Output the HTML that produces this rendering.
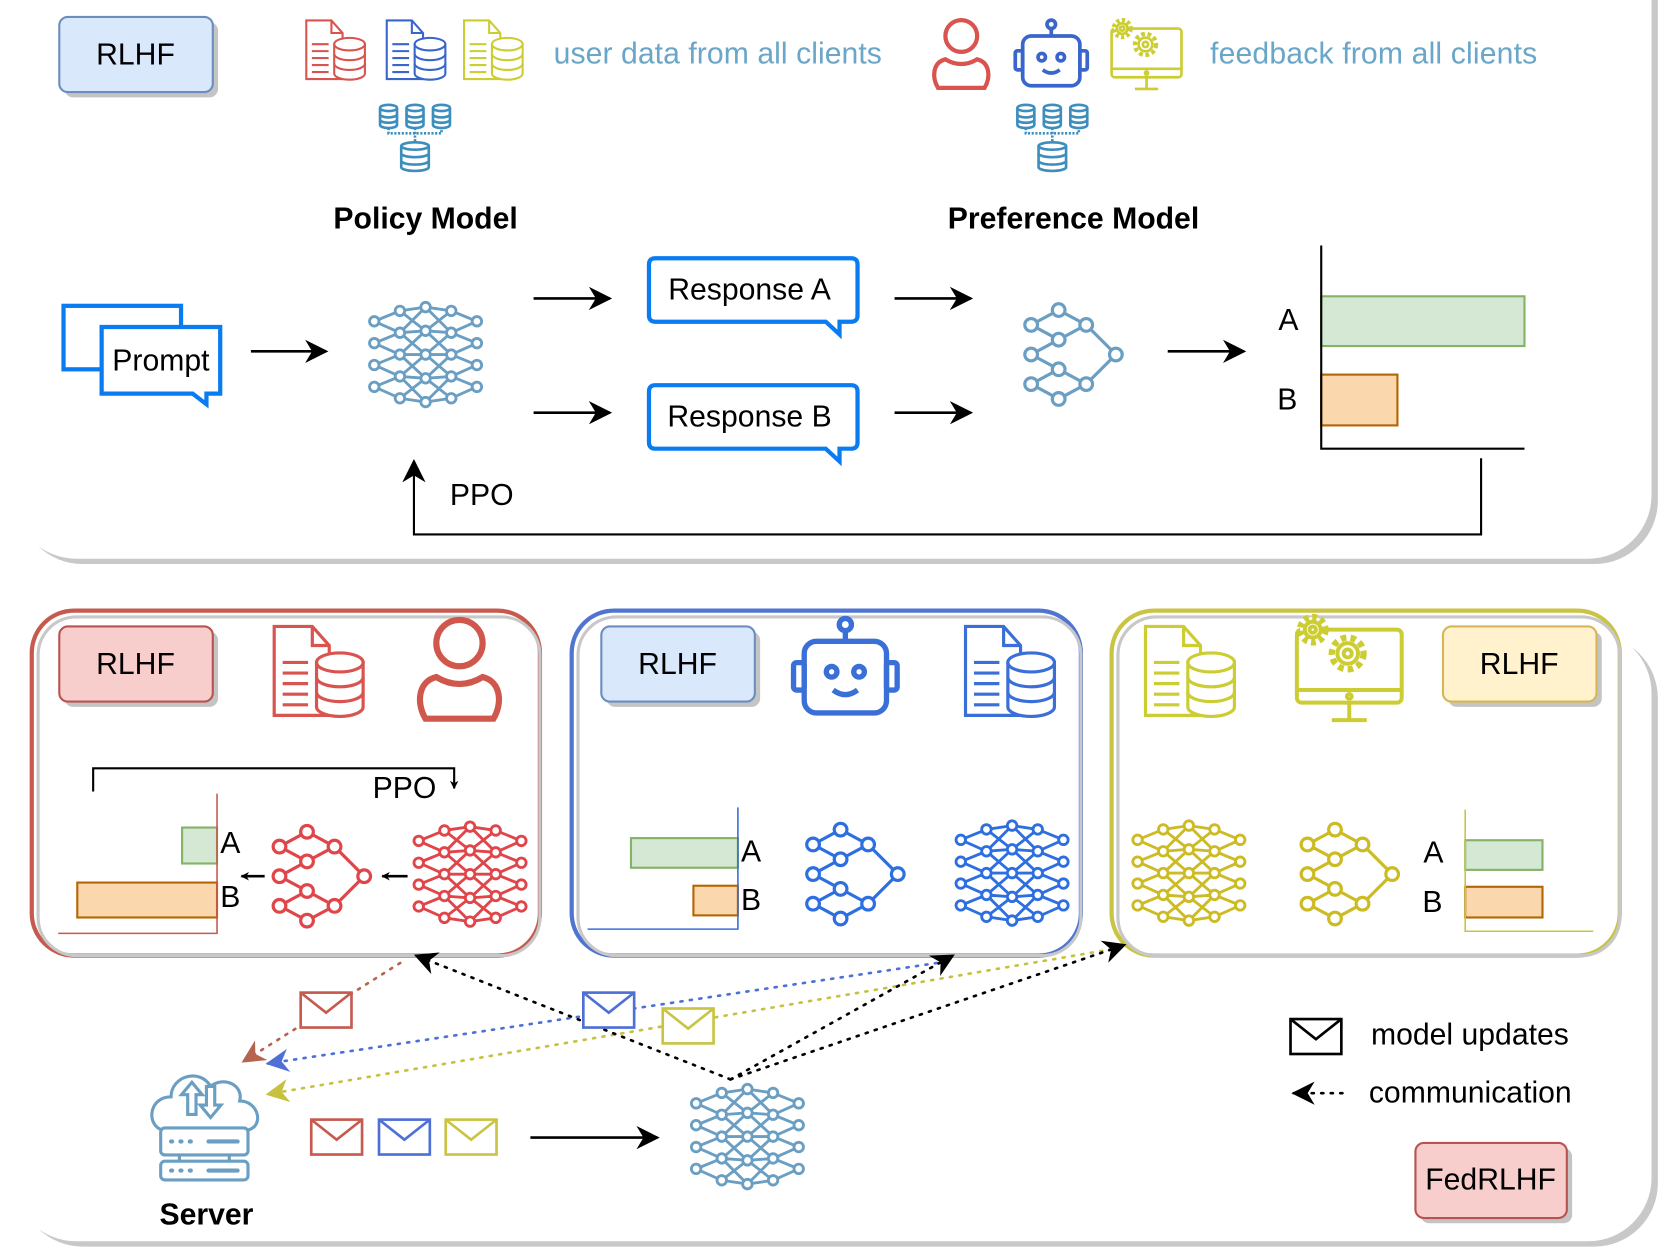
<!DOCTYPE html>
<html><head><meta charset="utf-8"><style>
html,body{margin:0;padding:0;background:#fff}
svg{display:block}
text{font-family:"Liberation Sans",Arial,sans-serif;fill:#000}
</style></head><body>
<svg id="s" xmlns="http://www.w3.org/2000/svg" xmlns:xlink="http://www.w3.org/1999/xlink" width="1660" height="1254" viewBox="0 0 1568 1185" preserveAspectRatio="none">
<defs>
<symbol id="dense" viewBox="-6 -6 120 117" overflow="visible"><g id="denseg" fill="none" stroke="currentColor" stroke-width="3"></g></symbol>
<symbol id="pref" viewBox="0 0 97 95" overflow="visible">
<g fill="none" stroke="currentColor" stroke-width="3">
<path d="M34,6 L8,20 M34,6 L60,20 M8,20 L34,34 M60,20 L34,34 M34,34 L8,48 M8,48 L34,62 M34,62 L60,76 M34,62 L8,76 M8,76 L34,90 M60,76 L34,90 M60,20 L88,48 M60,76 L88,48"/>
<g fill="#fff"><circle cx="34" cy="6" r="6"/><circle cx="8" cy="20" r="6"/><circle cx="60" cy="20" r="6"/><circle cx="34" cy="34" r="6"/><circle cx="8" cy="48" r="6"/><circle cx="88" cy="48" r="6"/><circle cx="34" cy="62" r="6"/><circle cx="8" cy="76" r="6"/><circle cx="60" cy="76" r="6"/><circle cx="34" cy="90" r="6"/></g></g></symbol>
<symbol id="docdb" viewBox="0 0 88 88" overflow="visible">
<g fill="#fff" stroke="currentColor" stroke-width="3">
<path d="M2,2 H38 L54,20 V86 H2 Z"/><path d="M38,2 V20 H54" fill="none"/>
<path d="M10,36 H34 M10,46 H34 M10,56 H34 M10,66 H34 M10,76 H34" fill="none"/>
<path d="M42,36 V78 A22,9 0 0 0 86,78 V36 Z"/>
<ellipse cx="64" cy="36" rx="22" ry="9"/>
<path d="M42,50 A22,9 0 0 0 86,50 M42,64 A22,9 0 0 0 86,64" fill="none"/>
</g></symbol>
<symbol id="person" viewBox="0 0 60 72" overflow="visible">
<g fill="none" stroke="currentColor" stroke-width="4"><circle cx="30" cy="19" r="15"/><path d="M8,68 C2,58 3,44 15,41 Q30,50 45,41 C57,44 58,58 52,68 Z"/></g></symbol>
<symbol id="robot" viewBox="0 0 72 66" overflow="visible">
<g fill="none" stroke="currentColor" stroke-width="3.5"><circle cx="36" cy="5" r="4"/><path d="M36,9 V16"/><rect x="9" y="16" width="54" height="47" rx="8"/><rect x="2" y="30" width="7" height="18" rx="2"/><rect x="63" y="30" width="7" height="18" rx="2"/><circle cx="27" cy="36" r="3.5"/><circle cx="45" cy="36" r="3.5"/><path d="M28,48 Q36,54 44,48"/></g></symbol>
<symbol id="monitor" viewBox="0 0 72 72" overflow="visible">
<g fill="#fff" stroke="currentColor" stroke-width="2.5"><rect x="4" y="12" width="66" height="46" rx="3"/><path d="M4,50 H70 M37,58 V68 M26,69 H48" fill="none"/><circle cx="37" cy="54" r="1.5"/>
<circle cx="14" cy="12" r="8" stroke-width="4" stroke-dasharray="3 2.3"/><circle cx="14" cy="12" r="5"/><circle cx="14" cy="12" r="2"/>
<circle cx="36" cy="27" r="10" stroke-width="4" stroke-dasharray="3.5 2.6"/><circle cx="36" cy="27" r="6.5"/><circle cx="36" cy="27" r="2.5"/></g></symbol>
<symbol id="dbc" viewBox="0 0 68 66" overflow="visible">
<g fill="#fff" stroke="currentColor" stroke-width="2.5">
<g id="cyl"><path d="M1,4 V20 A8,3 0 0 0 17,20 V4"/><ellipse cx="9" cy="4" rx="8" ry="3"/><path d="M1,10 A8,3 0 0 0 17,10 M1,15 A8,3 0 0 0 17,15" fill="none"/></g>
<use xlink:href="#cyl" x="25"/><use xlink:href="#cyl" x="50"/>
<path d="M9,23 V28 H59 V23 M34,23 V36" fill="none" stroke-dasharray="2 1.5"/>
<g transform="translate(20,36)"><path d="M1,4 V24 A13,3.5 0 0 0 27,24 V4"/><ellipse cx="14" cy="4" rx="13" ry="3.5"/><path d="M1,11 A13,3.5 0 0 0 27,11 M1,18 A13,3.5 0 0 0 27,18" fill="none"/></g>
</g></symbol>
<symbol id="env" viewBox="0 0 50 35" overflow="visible"><g fill="#fff" stroke="currentColor" stroke-width="2.5"><rect x="1" y="1" width="48" height="33"/><path d="M1,1 L25,20 L49,1" fill="none"/></g></symbol>
<symbol id="cloud" viewBox="0 0 110 110" overflow="visible">
<g fill="#fff" stroke="currentColor" stroke-width="3">
<path d="M14,62 C-2,58 0,30 22,30 C22,10 50,2 60,20 C72,10 92,18 88,34 C106,34 112,58 96,62 Z"/>
<path d="M38,47 V28 H32 L42,16 L52,28 H46 V47 Z"/><path d="M56,20 H64 V38 H70 L60,50 L50,38 H56 Z"/>
<rect x="12" y="60" width="84" height="26" rx="4"/><rect x="12" y="92" width="84" height="18" rx="4"/><path d="M30,86 V92 M78,86 V92" fill="none"/>
<path d="M22,73 h1 M31,73 h1 M40,73 h1 M22,101 h1 M31,101 h1 M40,101 h1 M58,73 H86 M58,101 H86" fill="none" stroke-linecap="round" stroke-width="4"/>
</g></symbol>
<marker id="ah" viewBox="0 0 10 10" refX="9" refY="5" markerWidth="8" markerHeight="8" orient="auto" markerUnits="userSpaceOnUse"><path d="M0,0 L10,5 L0,10 L3,5 Z" fill="#000"/></marker>
<marker id="ahb" viewBox="0 0 10 10" refX="9" refY="5" markerWidth="22" markerHeight="22" orient="auto" markerUnits="userSpaceOnUse"><path d="M0,0 L10,5 L0,10 L3,5 Z" fill="#000"/></marker>
<marker id="ahr" viewBox="0 0 10 10" refX="9" refY="5" markerWidth="22" markerHeight="22" orient="auto" markerUnits="userSpaceOnUse"><path d="M0,0 L10,5 L0,10 L3,5 Z" fill="#b5644f"/></marker>
<marker id="ahbl" viewBox="0 0 10 10" refX="9" refY="5" markerWidth="22" markerHeight="22" orient="auto" markerUnits="userSpaceOnUse"><path d="M0,0 L10,5 L0,10 L3,5 Z" fill="#4e6fd6"/></marker>
<marker id="ahy" viewBox="0 0 10 10" refX="9" refY="5" markerWidth="22" markerHeight="22" orient="auto" markerUnits="userSpaceOnUse"><path d="M0,0 L10,5 L0,10 L3,5 Z" fill="#c7c040"/></marker>
</defs>

<rect x="18" y="-95" width="1548" height="628" rx="60" fill="#c8c8c8"/>
<rect x="12" y="-100" width="1548" height="628" rx="60" fill="#fff"/>
<rect x="18" y="600" width="1548" height="578" rx="60" fill="#c8c8c8"/>
<rect x="12" y="595" width="1548" height="578" rx="60" fill="#fff"/>

<rect x="61" y="21" width="145" height="71" rx="8" fill="#c4c4c4"/>
<rect x="56" y="16" width="145" height="71" rx="8" fill="#dae8fc" stroke="#6c8ebf" stroke-width="2"/>
<text x="128" y="61" font-size="28.5" text-anchor="middle">RLHF</text>

<use xlink:href="#docdb" x="287" y="18" width="60" height="58" style="color:#d9534f"/>
<use xlink:href="#docdb" x="363" y="18" width="60" height="58" style="color:#3a66cc"/>
<use xlink:href="#docdb" x="436" y="18" width="60" height="58" style="color:#cccc33"/>
<text x="523" y="60" font-size="28.5" textLength="310" style="fill:#6aa6c8">user data from all clients</text>
<use xlink:href="#dbc" x="358" y="98" width="68" height="66" style="color:#3d8ebd"/>
<use xlink:href="#person" x="878" y="15" width="60" height="72" style="color:#d9534f"/>
<use xlink:href="#robot" x="957" y="18" width="72" height="66" style="color:#3a66cc"/>
<use xlink:href="#monitor" x="1046" y="15" width="72" height="72" style="color:#cccc33"/>
<text x="1143" y="60" font-size="28.5" textLength="309" style="fill:#6aa6c8">feedback from all clients</text>
<use xlink:href="#dbc" x="960" y="98" width="68" height="66" style="color:#3d8ebd"/>

<text x="402" y="216" font-size="28.5" font-weight="bold" text-anchor="middle">Policy Model</text>
<text x="1014" y="216" font-size="28.5" font-weight="bold" text-anchor="middle">Preference Model</text>

<g fill="#fff" stroke="#0a7cf2" stroke-width="4">
<rect x="60" y="289" width="111" height="60"/>
<path d="M96,309 H208 V372 H195 V382 L182,372 H96 Z"/>
</g>
<text x="152" y="350" font-size="28.5" text-anchor="middle">Prompt</text>

<g fill="#fff" stroke="#0a7cf2" stroke-width="4">
<path d="M619,244 H804 Q810,244 810,250 V298 Q810,304 804,304 H793 V316 L780,304 H619 Q613,304 613,298 V250 Q613,244 619,244 Z"/>
<path d="M619,364 H804 Q810,364 810,370 V418 Q810,424 804,424 H793 V436 L780,424 H619 Q613,424 613,418 V370 Q613,364 619,364 Z"/>
</g>
<text x="708" y="283" font-size="28.5" text-anchor="middle">Response A</text>
<text x="708" y="403" font-size="28.5" text-anchor="middle">Response B</text>

<g stroke="#000" stroke-width="2.5" marker-end="url(#ahb)">
<line x1="237" y1="332" x2="308" y2="332"/>
<line x1="504" y1="282" x2="576" y2="282"/>
<line x1="504" y1="390" x2="576" y2="390"/>
<line x1="845" y1="282" x2="917" y2="282"/>
<line x1="845" y1="390" x2="917" y2="390"/>
<line x1="1103" y1="332" x2="1175" y2="332"/>
</g>

<use xlink:href="#dense" x="348" y="283" width="108" height="105" style="color:#6a9ec2"/>
<use xlink:href="#pref" x="966" y="287" width="97" height="95" style="color:#6a9ec2"/>

<rect x="1248" y="280" width="192" height="47" fill="#d5e8d4" stroke="#82b366" stroke-width="2"/>
<rect x="1248" y="354" width="72" height="48" fill="#fad7ac" stroke="#b46504" stroke-width="2"/>
<path d="M1248,232 V424 H1440" fill="none" stroke="#000" stroke-width="2"/>
<text x="1217" y="312" font-size="28.5" text-anchor="middle">A</text>
<text x="1216" y="387" font-size="28.5" text-anchor="middle">B</text>

<path d="M1399,433 V505 H391 V436" fill="none" stroke="#000" stroke-width="2" marker-end="url(#ahb)"/>
<text x="425" y="477" font-size="28.5">PPO</text>

<rect x="30" y="577" width="480" height="326" rx="40" fill="#fff" stroke="#c65a4f" stroke-width="4"/>
<rect x="36" y="583" width="474" height="320" rx="36" fill="none" stroke="#c8c8c8" stroke-width="3"/>
<rect x="61" y="597" width="145" height="71" rx="8" fill="#c4c4c4"/>
<rect x="56" y="592" width="145" height="71" rx="8" fill="#f8cecc" stroke="#b85450" stroke-width="2"/>
<text x="128" y="637" font-size="28.5" text-anchor="middle">RLHF</text>
<use xlink:href="#docdb" x="257" y="590" width="88" height="88" style="color:#d9534f"/>
<use xlink:href="#person" x="388" y="580" width="92" height="105" style="color:#d0574b"/>
<path d="M88,748 V726 H429 V745" fill="none" stroke="#000" stroke-width="2" marker-end="url(#ah)"/>
<text x="352" y="754" font-size="28.5">PPO</text>
<rect x="172" y="782" width="33" height="34" fill="#d5e8d4" stroke="#82b366" stroke-width="2"/>
<rect x="73" y="834" width="132" height="33" fill="#fad7ac" stroke="#b46504" stroke-width="2"/>
<path d="M205,750 V882 H55" fill="none" stroke="#c65a4f" stroke-width="1.5"/>
<text x="208" y="806" font-size="28.5">A</text>
<text x="208" y="857" font-size="28.5">B</text>
<line x1="250" y1="828" x2="228" y2="828" stroke="#000" stroke-width="2.5" marker-end="url(#ah)"/>
<line x1="385" y1="828" x2="361" y2="828" stroke="#000" stroke-width="2.5" marker-end="url(#ah)"/>
<use xlink:href="#pref" x="256" y="780" width="97" height="95" style="color:#e0454a"/>
<use xlink:href="#dense" x="390" y="774" width="108" height="105" style="color:#e0454a"/>

<rect x="540" y="577" width="481" height="326" rx="40" fill="#fff" stroke="#5075d0" stroke-width="4"/>
<rect x="546" y="583" width="475" height="320" rx="36" fill="none" stroke="#c8c8c8" stroke-width="3"/>
<rect x="573" y="597" width="145" height="71" rx="8" fill="#c4c4c4"/>
<rect x="568" y="592" width="145" height="71" rx="8" fill="#dae8fc" stroke="#6c8ebf" stroke-width="2"/>
<text x="640" y="637" font-size="28.5" text-anchor="middle">RLHF</text>
<use xlink:href="#robot" x="745" y="583" width="107" height="95" style="color:#3a6fd8"/>
<use xlink:href="#docdb" x="910" y="590" width="88" height="88" style="color:#3a6fd8"/>
<rect x="596" y="792" width="101" height="28" fill="#d5e8d4" stroke="#82b366" stroke-width="2"/>
<rect x="655" y="837" width="42" height="28" fill="#fad7ac" stroke="#b46504" stroke-width="2"/>
<path d="M697,763 V878 H555" fill="none" stroke="#3a6fd8" stroke-width="1.5"/>
<text x="700" y="814" font-size="28.5">A</text>
<text x="700" y="860" font-size="28.5">B</text>
<use xlink:href="#pref" x="760" y="778" width="97" height="95" style="color:#2d6fe0"/>
<use xlink:href="#dense" x="902" y="773" width="108" height="105" style="color:#2d6fe0"/>

<rect x="1050" y="577" width="480" height="326" rx="40" fill="#fff" stroke="#c9c444" stroke-width="4"/>
<rect x="1056" y="583" width="474" height="320" rx="36" fill="none" stroke="#c8c8c8" stroke-width="3"/>
<use xlink:href="#docdb" x="1080" y="590" width="88" height="88" style="color:#cccc33"/>
<use xlink:href="#monitor" x="1218" y="577" width="110" height="108" style="color:#cccc33"/>
<rect x="1368" y="597" width="145" height="71" rx="8" fill="#c4c4c4"/>
<rect x="1363" y="592" width="145" height="71" rx="8" fill="#fff2cc" stroke="#d6b656" stroke-width="2"/>
<text x="1435" y="637" font-size="28.5" text-anchor="middle">RLHF</text>
<use xlink:href="#dense" x="1069" y="773" width="108" height="105" style="color:#ccbb22"/>
<use xlink:href="#pref" x="1227" y="778" width="97" height="95" style="color:#ccbb22"/>
<rect x="1384" y="794" width="73" height="28" fill="#d5e8d4" stroke="#82b366" stroke-width="2"/>
<rect x="1384" y="838" width="73" height="29" fill="#fad7ac" stroke="#b46504" stroke-width="2"/>
<path d="M1384,765 V880 H1505" fill="none" stroke="#c9c444" stroke-width="1.5"/>
<text x="1354" y="815" font-size="28.5" text-anchor="middle">A</text>
<text x="1353" y="862" font-size="28.5" text-anchor="middle">B</text>

<g fill="none" stroke-width="2.5" stroke-dasharray="2 7" stroke-linecap="round">
<line x1="378" y1="910" x2="230" y2="1003" stroke="#b5644f" marker-end="url(#ahr)"/>
<line x1="885" y1="910" x2="253" y2="1005" stroke="#4e6fd6" marker-end="url(#ahbl)"/>
<line x1="1050" y1="897" x2="253" y2="1034" stroke="#c7c040" marker-end="url(#ahy)"/>
<line x1="690" y1="1020" x2="393" y2="903" stroke="#000" marker-end="url(#ahb)"/>
<line x1="690" y1="1020" x2="900" y2="903" stroke="#000" marker-end="url(#ahb)"/>
<line x1="690" y1="1020" x2="1062" y2="893" stroke="#000" marker-end="url(#ahb)"/>
</g>
<use xlink:href="#env" x="283" y="937" width="50" height="35" style="color:#c65a4f"/>
<use xlink:href="#env" x="550" y="937" width="50" height="35" style="color:#4e6fd6"/>
<use xlink:href="#env" x="625" y="952" width="50" height="35" style="color:#c9c444"/>

<use xlink:href="#cloud" x="140" y="1006" width="108" height="110" style="color:#6a9ec2"/>
<text x="195" y="1157" font-size="28.5" font-weight="bold" text-anchor="middle">Server</text>
<use xlink:href="#env" x="293" y="1057" width="50" height="35" style="color:#c65a4f"/>
<use xlink:href="#env" x="357" y="1057" width="50" height="35" style="color:#4e6fd6"/>
<use xlink:href="#env" x="420" y="1057" width="50" height="35" style="color:#c9c444"/>
<line x1="501" y1="1075" x2="621" y2="1075" stroke="#000" stroke-width="2.5" marker-end="url(#ahb)"/>
<use xlink:href="#dense" x="652" y="1022" width="108" height="105" style="color:#6a9ec2"/>

<use xlink:href="#env" x="1218" y="962" width="50" height="35" style="color:#000"/>
<text x="1295" y="987" font-size="28.5">model updates</text>
<line x1="1268" y1="1033" x2="1222" y2="1033" stroke="#000" stroke-width="2.5" stroke-dasharray="2 7" stroke-linecap="round" marker-end="url(#ahb)"/>
<text x="1293" y="1042" font-size="28.5">communication</text>
<rect x="1342" y="1085" width="143" height="71" rx="8" fill="#c4c4c4"/>
<rect x="1337" y="1080" width="143" height="71" rx="8" fill="#f8cecc" stroke="#b85450" stroke-width="2"/>
<text x="1408" y="1124" font-size="28.5" text-anchor="middle">FedRLHF</text>
</svg>
<script>
(function(){
var cols=[[0,[17,40,63,86]],[27,[6,29,52,75,98]],[54,[2,27,52,77,102]],[81,[6,29,52,75,98]],[108,[17,40,63,86]]];
var d="",i,j,k;
for(i=0;i<cols.length-1;i++){var a=cols[i],b=cols[i+1];for(j=0;j<a[1].length;j++)for(k=0;k<b[1].length;k++){if(Math.abs(a[1][j]-b[1][k])<30)d+="M"+a[0]+","+a[1][j]+"L"+b[0]+","+b[1][k];}}
var ns="http://www.w3.org/2000/svg",g=document.getElementById("denseg");
var p=document.createElementNS(ns,"path");p.setAttribute("d",d);g.appendChild(p);
for(i=0;i<cols.length;i++)for(j=0;j<cols[i][1].length;j++){var c=document.createElementNS(ns,"circle");c.setAttribute("cx",cols[i][0]);c.setAttribute("cy",cols[i][1][j]);c.setAttribute("r",5);c.setAttribute("fill","#fff");g.appendChild(c);}
})();
</script>
</body></html>
